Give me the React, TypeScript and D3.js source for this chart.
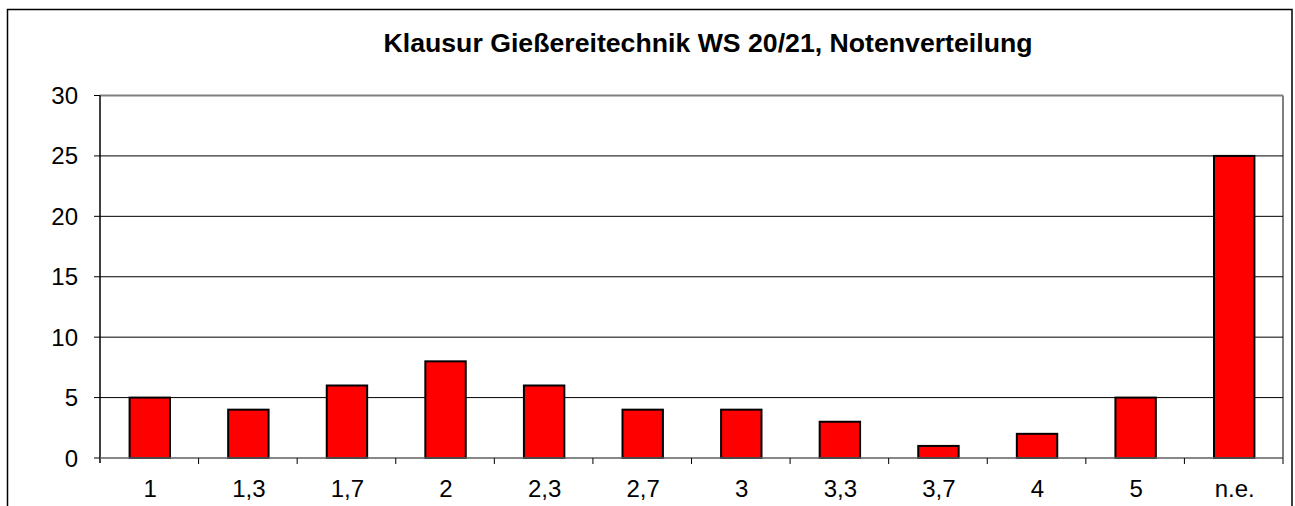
import React from "react";
import * as d3 from "d3";

const categories = ["1", "1,3", "1,7", "2", "2,3", "2,7", "3", "3,3", "3,7", "4", "5", "n.e."];
const counts = [5, 4, 6, 8, 6, 4, 4, 3, 1, 2, 5, 25];
const yTicks = [0, 5, 10, 15, 20, 25, 30];
const title = "Klausur Gießereitechnik WS 20/21, Notenverteilung";

export default function App() {
  const W = 1295, H = 506;
  const left = 100, right = 1283, top = 95.5, bottom = 458;
  const x = d3.scaleBand<string>().domain(categories).range([left, right]).paddingInner(0.58).paddingOuter(0.29);
  const xb = d3.scaleBand<string>().domain(categories).range([left, right]);
  const y = d3.scaleLinear().domain([0, 30]).range([bottom, top]);
  const font = "'Liberation Sans', Arial, sans-serif";
  return (
    <svg width={W} height={H} style={{ position: "absolute", left: 0, top: 0, display: "block" }}>
      <rect x={0} y={0} width={W} height={H} fill="#fff" />
      <rect x={7.5} y={9.5} width={1284.5} height={H} fill="#fff" stroke="#000" strokeWidth={1.5} />
      <text x={708} y={52} textAnchor="middle" fontFamily={font} fontWeight="bold" fontSize={26.5} textLength={649} lengthAdjust="spacingAndGlyphs" fill="#000">
        {title}
      </text>
      {/* plot border */}
      <line x1={left} x2={right} y1={top} y2={top} stroke="#808080" strokeWidth={2} />
      <line x1={right} x2={right} y1={top} y2={bottom} stroke="#808080" strokeWidth={2} />
      {/* gridlines */}
      {yTicks.filter(t => t > 0 && t < 30).map(t => (
        <line key={t} x1={left} x2={right} y1={y(t)} y2={y(t)} stroke="#000" strokeWidth={1} />
      ))}
      {/* bars */}
      {categories.map((c, i) => (
        <rect key={c} x={x(c)! + 1} y={y(counts[i])} width={x.bandwidth() - 1} height={bottom - y(counts[i])}
          fill="#ff0000" stroke="#000" strokeWidth={2} />
      ))}
      {/* y axis */}
      <line x1={left} x2={left} y1={top} y2={bottom + 5} stroke="#000" strokeWidth={1.5} />
      {yTicks.map(t => (
        <g key={t}>
          <line x1={left - 6} x2={left} y1={y(t)} y2={y(t)} stroke="#000" strokeWidth={1} />
          <text x={78} y={y(t) + 8.5} textAnchor="end" fontFamily={font} fontSize={24} fill="#000">{t}</text>
        </g>
      ))}
      {/* x axis */}
      <line x1={left} x2={right} y1={bottom} y2={bottom} stroke="#606060" strokeWidth={1.5} />
      {categories.map((c) => (
        <line key={"t" + c} x1={xb(c)! + xb.bandwidth()} x2={xb(c)! + xb.bandwidth()} y1={bottom} y2={bottom + 6} stroke="#000" strokeWidth={1} />
      ))}
      {categories.map(c => (
        <text key={"l" + c} x={xb(c)! + xb.bandwidth() / 2 + 1} y={497} textAnchor="middle" fontFamily={font} fontSize={24} fill="#000">{c}</text>
      ))}
    </svg>
  );
}
